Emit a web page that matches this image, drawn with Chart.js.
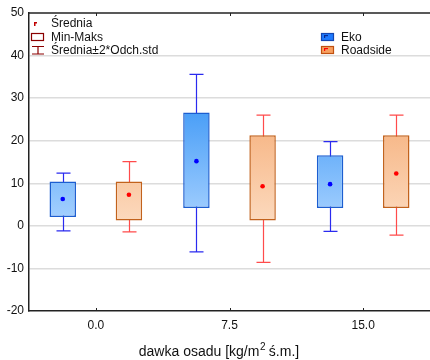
<!DOCTYPE html>
<html>
<head>
<meta charset="utf-8">
<script src="https://cdn.jsdelivr.net/npm/chart.js@4"></script>
<style>
    html, body { margin: 0; padding: 0; background: #fff; }
    #wrap { width: 430px; height: 360px; }
</style>
</head>
<body>
<div id="wrap"><canvas id="chart" width="430" height="360"></canvas></div>
<script>
// Data:
const doseLabels = ['0.0', '7.5', '15.0'];

const ekoMin = [2.1, 4.2, 4.2];
const ekoMax = [10.4, 26.6, 16.6];
const ekoMean = [6.3, 15.2, 9.8];
const ekoLow = [-1.2, -6.1, -1.3];
const ekoHigh = [12.4, 35.6, 19.8];

const roadMin = [1.25, 1.25, 4.2];
const roadMax = [10.4, 21.3, 21.3];
const roadMean = [7.3, 9.3, 12.3];
const roadLow = [-1.4, -8.6, -2.2];
const roadHigh = [15.1, 26.0, 26.0];

const yMin = -20;
const yMax = 50;
const yStep = 10;

const FONT = "'Liberation Sans', Arial, sans-serif";

// Per-series statistics used by the plugin (index matches dataset index):
const stats = [
    { mean: ekoMean, low: ekoLow, high: ekoHigh, whisker: '#2a2aef', dot: '#0000ff' },
    { mean: roadMean, low: roadLow, high: roadHigh, whisker: '#ff4b4b', dot: '#ff0000' }
];

// Gradient fixed in plot space (darker at top, lighter near zero):
const makeFill = (top, bottom) => (context) => {
    const chart = context.chart;
    const y = chart.scales.y;
    if (!chart.chartArea || !y) return bottom;
    const g = chart.ctx.createLinearGradient(0, y.getPixelForValue(30), 0, y.getPixelForValue(0));
    g.addColorStop(0, top);
    g.addColorStop(1, bottom);
    return g;
};

// Whiskers, mean dots, frame and legends:
const boxPlugin = {
    id: 'boxExtras',
    beforeDatasetsDraw(chart) {
        const ctx = chart.ctx;
        const y = chart.scales.y;
        ctx.save();
        stats.forEach((s, di) => {
            const meta = chart.getDatasetMeta(di);
            meta.data.forEach((bar, i) => {
                const x = Math.round(bar.x) + 0.5;
                const yl = y.getPixelForValue(s.low[i]);
                const yh = y.getPixelForValue(s.high[i]);
                ctx.strokeStyle = s.whisker;
                ctx.lineWidth = 1.2;
                ctx.beginPath();
                ctx.moveTo(x, yl);
                ctx.lineTo(x, yh);
                ctx.moveTo(x - 7, yl);
                ctx.lineTo(x + 7, yl);
                ctx.moveTo(x - 7, yh);
                ctx.lineTo(x + 7, yh);
                ctx.stroke();
            });
        });
        ctx.restore();
    },
    afterDatasetsDraw(chart) {
        const ctx = chart.ctx;
        const y = chart.scales.y;
        ctx.save();
        stats.forEach((s, di) => {
            const meta = chart.getDatasetMeta(di);
            meta.data.forEach((bar, i) => {
                ctx.fillStyle = s.dot;
                ctx.beginPath();
                ctx.arc(bar.x, y.getPixelForValue(s.mean[i]), 2.3, 0, Math.PI * 2);
                ctx.fill();
            });
        });
        ctx.restore();
    },
    afterDraw(chart) {
        const ctx = chart.ctx;
        const area = chart.chartArea;
        const x = chart.scales.x;
        ctx.save();

        // Top frame line and inward ticks:
        ctx.strokeStyle = '#222';
        ctx.lineWidth = 1.5;
        ctx.beginPath();
        ctx.moveTo(area.left, area.top);
        ctx.lineTo(430, area.top);
        ctx.stroke();
        ctx.lineWidth = 1;
        ctx.beginPath();
        doseLabels.forEach((label, i) => {
            const px = Math.round(x.getPixelForTick(i)) + 0.5;
            ctx.moveTo(px, area.top);
            ctx.lineTo(px, area.top + 3);
            ctx.moveTo(px, area.bottom);
            ctx.lineTo(px, area.bottom - 3);
        });
        ctx.stroke();

        // Left legend:
        ctx.strokeStyle = '#8b0000';
        ctx.fillStyle = '#c00000';
        ctx.fillRect(34, 22, 3, 1.5);
        ctx.fillRect(34, 22, 1.5, 4);
        ctx.lineWidth = 1.2;
        ctx.strokeRect(31.5, 33.5, 12, 7);
        ctx.beginPath();
        ctx.moveTo(32, 46.5);
        ctx.lineTo(44, 46.5);
        ctx.moveTo(38, 46.5);
        ctx.lineTo(38, 54);
        ctx.moveTo(32, 54);
        ctx.lineTo(44, 54);
        ctx.stroke();

        ctx.fillStyle = '#111';
        ctx.font = `12px ${FONT}`;
        ctx.textBaseline = 'middle';
        ctx.textAlign = 'left';
        ctx.fillText('Średnia', 51, 24);
        ctx.fillText('Min-Maks', 51, 37.5);
        ctx.fillText('Średnia±2*Odch.std', 51, 51);

        // Right legend:
        ctx.fillStyle = '#1f7bff';
        ctx.fillRect(321, 33, 13, 8);
        ctx.strokeStyle = '#1446b0';
        ctx.strokeRect(321.5, 33.5, 12, 7);
        ctx.fillStyle = '#0a2a90';
        ctx.fillRect(324, 35, 4, 1.2);
        ctx.fillRect(324, 35, 1.2, 3);
        ctx.fillStyle = '#f7a060';
        ctx.fillRect(321, 46, 13, 8);
        ctx.strokeStyle = '#c05010';
        ctx.strokeRect(321.5, 46.5, 12, 7);
        ctx.fillStyle = '#ff0000';
        ctx.fillRect(324, 48, 4, 1.2);
        ctx.fillRect(324, 48, 1.2, 3);

        ctx.fillStyle = '#111';
        ctx.fillText('Eko', 341, 38);
        ctx.fillText('Roadside', 341, 51);

        // X axis title with superscript:
        const partA = 'dawka osadu [kg/m';
        const partB = ' ś.m.]';
        ctx.font = `14px ${FONT}`;
        const wA = ctx.measureText(partA).width;
        const wB = ctx.measureText(partB).width;
        ctx.font = `10px ${FONT}`;
        const wSup = ctx.measureText('2').width;
        const start = 219 - (wA + wSup + wB) / 2;
        ctx.font = `14px ${FONT}`;
        ctx.fillText(partA, start, 352);
        ctx.font = `10px ${FONT}`;
        ctx.fillText('2', start + wA + 0.5, 347);
        ctx.font = `14px ${FONT}`;
        ctx.fillText(partB, start + wA + wSup, 352);

        ctx.restore();
    }
};

const chart = new Chart(document.getElementById('chart').getContext('2d'), {
    type: 'bar',
    data: {
        labels: doseLabels,
        datasets: [{
            label: 'Eko',
            data: ekoMin.map((v, i) => [v, ekoMax[i]]),
            backgroundColor: makeFill('#3e98f6', '#aad3ff'),
            borderColor: '#1c5ed0',
            borderWidth: 1.5,
            borderSkipped: false
        }, {
            label: 'Roadside',
            data: roadMin.map((v, i) => [v, roadMax[i]]),
            backgroundColor: makeFill('#f5ab74', '#fcdbc0'),
            borderColor: '#c2621c',
            borderWidth: 1.5,
            borderSkipped: false
        }]
    },
    options: {
        responsive: false,
        animation: false,
        categoryPercentage: 0.99,
        barPercentage: 0.4,
        layout: { padding: { top: 13, right: -4, left: 0, bottom: 0 } },
        plugins: {
            legend: { display: false },
            tooltip: { enabled: false }
        },
        scales: {
            x: {
                grid: { display: false, drawTicks: false },
                border: { color: '#222', width: 1.5 },
                ticks: {
                    color: '#111',
                    padding: 7,
                    font: { family: FONT, size: 12 }
                },
                afterFit: (scale) => { scale.height = 49; }
            },
            y: {
                min: yMin,
                max: yMax,
                grid: {
                    drawTicks: false,
                    lineWidth: 1.5,
                    color: (c) => (c.tick && (c.tick.value === yMin || c.tick.value === yMax)) ? 'rgba(0,0,0,0)' : '#dcdcdc'
                },
                border: { color: '#222', width: 1.5 },
                ticks: {
                    stepSize: yStep,
                    color: '#111',
                    padding: 5,
                    font: { family: FONT, size: 12 }
                },
                afterFit: (scale) => { scale.width = 29; }
            }
        }
    },
    plugins: [boxPlugin]
});
</script>
</body>
</html>
